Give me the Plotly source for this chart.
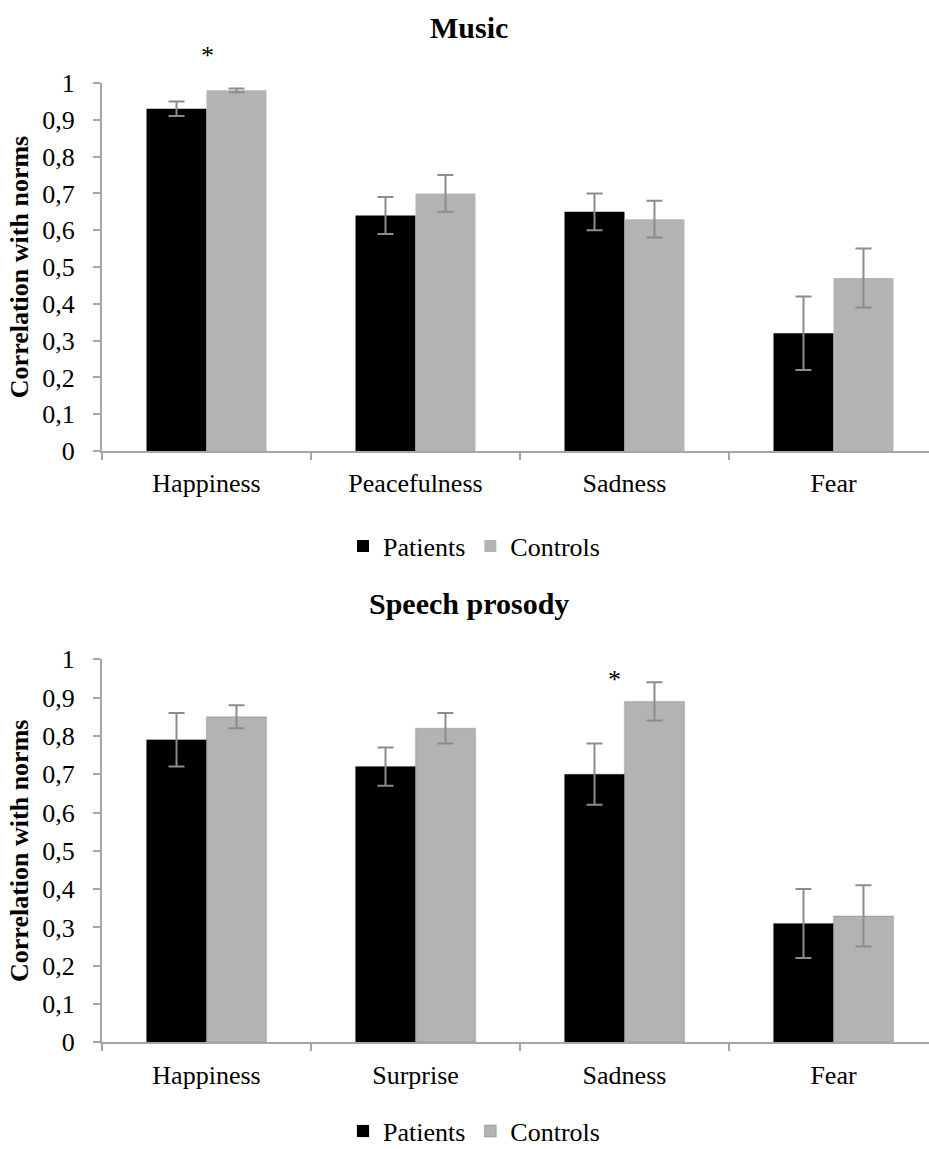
import plotly.graph_objects as go

# Music: mean correlation with norms and error
music_emotions = ["Happiness", "Peacefulness", "Sadness", "Fear"]
music_patients = [0.93, 0.64, 0.65, 0.32]
music_patients_err = [0.02, 0.05, 0.05, 0.10]
music_controls = [0.98, 0.70, 0.63, 0.47]
music_controls_err = [0.005, 0.05, 0.05, 0.08]

# Speech prosody
speech_emotions = ["Happiness", "Surprise", "Sadness", "Fear"]
speech_patients = [0.79, 0.72, 0.70, 0.31]
speech_patients_err = [0.07, 0.05, 0.08, 0.09]
speech_controls = [0.85, 0.82, 0.89, 0.33]
speech_controls_err = [0.03, 0.04, 0.05, 0.08]

group_names = ["Patients", "Controls"]
panel_titles = ["Music", "Speech prosody"]
y_title = "Correlation with norms"

W, H = 929, 1149
FONT = "Liberation Serif, Times New Roman, serif"
AXIS_GREY = "#a6a6a6"
ERR_GREY = "#8c8c8c"
PATIENT_COLOR = "#000000"
CONTROL_COLOR = "#b3b3b3"


def fx(px):
    return px / W


def fy(py):
    return 1 - py / H


fig = go.Figure()

# second panel bars carry a faint soft edge
panels = [
    (music_emotions, music_patients, music_patients_err, music_controls, music_controls_err,
     "x", "y", "legend", dict(width=0)),
    (speech_emotions, speech_patients, speech_patients_err, speech_controls, speech_controls_err,
     "x2", "y2", "legend2", dict(width=1.5, color="rgba(0,0,0,0.12)")),
]

for cats, pat, pat_err, ctl, ctl_err, xa, ya, lg, edge in panels:
    for name, vals, errs, color in [
        (group_names[0], pat, pat_err, PATIENT_COLOR),
        (group_names[1], ctl, ctl_err, CONTROL_COLOR),
    ]:
        fig.add_trace(go.Bar(
            x=cats, y=vals, name=name, legend=lg,
            xaxis=xa, yaxis=ya,
            marker=dict(color=color, line=edge),
            error_y=dict(type="data", array=errs, visible=True,
                         color=ERR_GREY, thickness=2, width=8),
        ))

x_domain = [fx(102), 1.0]
common_x = dict(
    type="category", range=[-0.5, 3.457], domain=x_domain,
    showline=True, linecolor=AXIS_GREY, linewidth=2,
    ticks="outside", tickson="boundaries", ticklen=7, tickcolor=AXIS_GREY, tickwidth=2,
    tickfont=dict(family=FONT, size=26, color="black"),
    ticklabelstandoff=8, showgrid=False, zeroline=False, automargin=False,
)
common_y = dict(
    range=[0, 1], tick0=0, dtick=0.1,
    showline=True, linecolor=AXIS_GREY, linewidth=2,
    ticks="outside", ticklen=7, tickcolor=AXIS_GREY, tickwidth=2,
    tickfont=dict(family=FONT, size=26, color="black"),
    ticklabelstandoff=13, showgrid=False, zeroline=False, automargin=False,
    title=dict(text=y_title, font=dict(family=FONT, size=26, color="black", weight="bold"), standoff=6),
)

legend_common = dict(orientation="h", x=fx(474), xanchor="center", yanchor="middle",
                     font=dict(family=FONT, size=26, color="black"), bgcolor="rgba(0,0,0,0)",
                     itemwidth=30, borderwidth=0)

fig.update_layout(
    width=W, height=H,
    margin=dict(l=0, r=0, t=0, b=0, autoexpand=False),
    paper_bgcolor="white", plot_bgcolor="white",
    separators=", ",
    barmode="group", bargap=0.426, bargroupgap=0,
    font=dict(family=FONT, size=26, color="black"),
    xaxis=dict(common_x, anchor="y"),
    yaxis=dict(common_y, domain=[fy(451), fy(83)], anchor="x"),
    xaxis2=dict(common_x, anchor="y2"),
    yaxis2=dict(common_y, domain=[fy(1042.3), fy(659.3)], anchor="x2"),
    legend=dict(legend_common, y=fy(546)),
    legend2=dict(legend_common, y=fy(1131)),
    showlegend=True,
)

# Panel titles
for title, ypx in [(panel_titles[0], 28), (panel_titles[1], 603)]:
    fig.add_annotation(text=title, xref="paper", yref="paper", x=fx(469), y=fy(ypx),
                       xanchor="center", yanchor="middle", showarrow=False,
                       font=dict(family=FONT, size=30, color="black", weight="bold"))

# Significance markers (x at the category, y placed in figure space)
fig.add_annotation(text="*", xref="x", yref="paper", x="Happiness", y=fy(56), xshift=1,
                   showarrow=False, yanchor="middle", font=dict(family=FONT, size=26, color="black"))
fig.add_annotation(text="*", xref="x2", yref="paper", x="Sadness", y=fy(679), xshift=-10,
                   showarrow=False, yanchor="middle", font=dict(family=FONT, size=26, color="black"))

fig.write_html("out.html")
